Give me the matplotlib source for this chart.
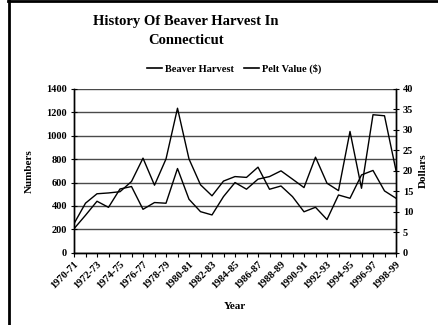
import matplotlib
matplotlib.use("Agg")
import matplotlib.pyplot as plt
from matplotlib.lines import Line2D

seasons = ['1970-71', '1971-72', '1972-73', '1973-74', '1974-75', '1975-76',
           '1976-77', '1977-78', '1978-79', '1979-80', '1980-81', '1981-82',
           '1982-83', '1983-84', '1984-85', '1985-86', '1986-87', '1987-88',
           '1988-89', '1989-90', '1990-91', '1991-92', '1992-93', '1993-94',
           '1994-95', '1995-96', '1996-97', '1997-98', '1998-99']
harvest = [205, 320, 440, 388, 545, 566, 371, 429, 423, 720, 457, 351, 323, 480,
           600, 543, 629, 651, 700, 629, 557, 817, 594, 531, 1037, 551, 1180, 1171, 703]
pelt_value = [7.1, 12.1, 14.4, 14.6, 14.9, 17.4, 23.1, 16.5, 22.9, 35.3, 22.9, 16.6,
              13.9, 17.5, 18.6, 18.4, 20.9, 15.5, 16.3, 13.7, 10.0, 11.1, 8.1, 14.1,
              13.3, 19.0, 20.1, 15.1, 13.3]
left_ticks = [0, 200, 400, 600, 800, 1000, 1200, 1400]
right_ticks = [0, 5, 10, 15, 20, 25, 30, 35, 40]

plt.rcParams['font.family'] = ['Liberation Serif', 'DejaVu Serif']
plt.rcParams['font.weight'] = 'bold'

W, H = 438, 325
fig = plt.figure(figsize=(W / 100, H / 100), dpi=100)
fig.patch.set_facecolor('white')

ax = fig.add_axes([74 / W, 1 - 252.7 / H, (396 - 74) / W, (252.7 - 89) / H])
ax2 = ax.twinx()

x = list(range(len(seasons)))
ax.plot(x, harvest, color='black', lw=1.0, label='Beaver Harvest')
ax2.plot(x, pelt_value, color='black', lw=1.0, label='Pelt Value ($)')

ax.set_xlim(0, len(seasons) - 1)
ax.set_ylim(0, 1400)
ax2.set_ylim(0, 40)
ax.set_yticks(left_ticks)
ax2.set_yticks(right_ticks)
ax.set_xticks(x)
ax.set_xticklabels([s if i % 2 == 0 else '' for i, s in enumerate(seasons)],
                   rotation=45, ha='right', rotation_mode='anchor', fontsize=7.5,
                   fontweight='bold')
for lab in ax.get_yticklabels():
    lab.set_fontweight('bold')
for lab in ax2.get_yticklabels():
    lab.set_fontweight('bold')

ax.yaxis.grid(True, color='#4a4a4a', lw=1.0)
ax.set_axisbelow(True)
for a in (ax, ax2):
    a.spines['top'].set_visible(False)
    for s in ('left', 'right', 'bottom'):
        a.spines[s].set_color('black')
        a.spines[s].set_linewidth(1.0)
ax.tick_params(axis='y', direction='inout', length=4, width=0.8, labelsize=7.5, pad=3)
ax2.tick_params(axis='y', direction='inout', length=4, width=0.8, labelsize=7.5, pad=3)
ax.tick_params(axis='x', direction='out', length=3, width=0.8, pad=2)

ax.set_ylabel('Numbers', fontsize=8, fontweight='bold', labelpad=9)
ax2.set_ylabel('Dollars', fontsize=8, fontweight='bold', labelpad=4)
ax.set_xlabel('Year', fontsize=8, fontweight='bold', labelpad=8)

fig.text(186 / W, 1 - 22 / H, 'History Of Beaver Harvest In', ha='center', va='center',
         fontsize=10.5, fontweight='bold')
fig.text(186 / W, 1 - 41 / H, 'Connecticut', ha='center', va='center',
         fontsize=10.5, fontweight='bold')

handles = [Line2D([], [], color='black', lw=1.2), Line2D([], [], color='black', lw=1.2)]
fig.legend(handles, ['Beaver Harvest', 'Pelt Value ($)'], loc='center',
           bbox_to_anchor=(234 / W, 1 - 69 / H), ncol=2, frameon=False,
           prop={'size': 7.5, 'weight': 'bold'}, handlelength=1.4,
           handletextpad=0.3, columnspacing=1.0)

# frame edges along the left and top of the figure
fig.add_artist(Line2D([9 / W, 9 / W], [0, 1], color='black', lw=2.0,
                      transform=fig.transFigure))
fig.add_artist(Line2D([8 / W, 1], [1 - 1 / H, 1 - 1 / H], color='black', lw=2.0,
                      transform=fig.transFigure))

fig.savefig('out.png', dpi=100)
